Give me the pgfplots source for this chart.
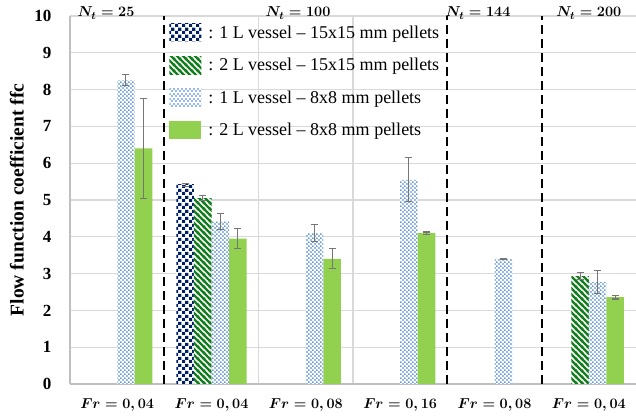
\documentclass[border=0pt]{standalone}
\usepackage{amsmath}
\usepackage{fontspec}
\setmainfont{Liberation Serif}
\usepackage{pgfplots}
\pgfplotsset{compat=1.18}
\usetikzlibrary{patterns}

\definecolor{navy}{RGB}{0,32,96}
\definecolor{hatchgreen}{RGB}{20,125,30}
\definecolor{dotblue}{RGB}{45,117,205}
\definecolor{lightgreen}{RGB}{146,208,80}
\definecolor{gridgray}{RGB}{217,217,217}
\definecolor{axisgray}{RGB}{191,191,191}
\definecolor{errgray}{RGB}{118,118,118}

\pgfdeclarepatternformonly{mychecker}{\pgfqpoint{0pt}{0pt}}{\pgfqpoint{7pt}{7pt}}{\pgfqpoint{7pt}{7pt}}{%
  \pgfpathrectangle{\pgfqpoint{0pt}{0pt}}{\pgfqpoint{3.5pt}{3.5pt}}%
  \pgfpathrectangle{\pgfqpoint{3.5pt}{3.5pt}}{\pgfqpoint{3.5pt}{3.5pt}}%
  \pgfusepath{fill}}
\pgfdeclarepatternformonly{mydots}{\pgfqpoint{0pt}{0pt}}{\pgfqpoint{4.4pt}{4.4pt}}{\pgfqpoint{4.4pt}{4.4pt}}{%
  \pgfpathcircle{\pgfqpoint{1.1pt}{1.1pt}}{1.0pt}%
  \pgfpathcircle{\pgfqpoint{3.3pt}{3.3pt}}{1.0pt}%
  \pgfusepath{fill}}
\pgfdeclarepatternformonly{myhatch}{\pgfqpoint{-1pt}{-1pt}}{\pgfqpoint{7pt}{7pt}}{\pgfqpoint{6pt}{6pt}}{%
  \pgfsetlinewidth{2.2pt}%
  \pgfpathmoveto{\pgfqpoint{-1pt}{7pt}}\pgfpathlineto{\pgfqpoint{7pt}{-1pt}}%
  \pgfpathmoveto{\pgfqpoint{-1pt}{1pt}}\pgfpathlineto{\pgfqpoint{1pt}{-1pt}}%
  \pgfpathmoveto{\pgfqpoint{5pt}{7pt}}\pgfpathlineto{\pgfqpoint{7pt}{5pt}}%
  \pgfusepath{stroke}}

\pgfplotsset{
  swatch/.style={legend image code/.code={\path[##1] (0pt,-9pt) rectangle (32pt,9pt); \path (37pt,0pt);}},
}

\begin{document}
\begin{tikzpicture}
\path[use as bounding box] (-70pt,-35pt) rectangle (566pt,384pt);
\begin{axis}[
  at={(0,0)}, anchor=south west,
  scale only axis, width=566pt, height=368pt,
  ybar=0pt, bar width=0.186,
  xmin=-0.5, xmax=5.5, ymin=0, ymax=10,
  clip=false,
  axis lines*=left,
  axis line style={draw=axisgray, line width=1.2pt, -},
  major tick length=0pt, minor tick length=0pt,
  xtick={0,1,2,3,4,5},
  xticklabels={{$\boldsymbol{Fr = 0,04}$},{$\boldsymbol{Fr = 0,04}$},{$\boldsymbol{Fr = 0,08}$},{$\boldsymbol{Fr = 0,16}$},{$\boldsymbol{Fr = 0,08}$},{$\boldsymbol{Fr = 0,04}$}},
  xticklabel style={font=\fontsize{13.5}{13.5}\selectfont, yshift=-11pt},
  minor xtick={1.5,2.5},
  xminorgrids,
  minor x grid style={draw=gridgray, line width=1.2pt},
  ytick={0,1,...,10},
  ymajorgrids,
  major y grid style={draw=gridgray, line width=1.2pt},
  yticklabel style={font=\fontsize{17}{17}\selectfont\bfseries, xshift=-15pt},
  /pgf/number format/assume math mode=true,
  ylabel={\bfseries Flow function coefficient ffc},
  every axis y label/.style={at={(axis description cs:0,0.5)}, xshift=-53pt, rotate=90, anchor=center, font=\fontsize{19.5}{19.5}\selectfont},
  legend cell align=left,
  legend style={at={(axis description cs:0.175,0.98)}, anchor=north west, draw=none, fill=none,
    font=\fontsize{18}{18}\selectfont, row sep=14.5pt, inner sep=0pt},
  error bars/y dir=both, error bars/y explicit,
  error bars/error bar style={color=errgray, line width=1.1pt},
  error bars/error mark options={rotate=90, mark size=3.5pt, line width=1.1pt, color=errgray},
]
% 1 L vessel - 15x15 mm
\addplot[swatch, draw=none, fill=white, postaction={pattern=mychecker, pattern color=navy}]
  coordinates {(1,5.41) +- (0,0.05)};
% 2 L vessel - 15x15 mm
\addplot[swatch, draw=none, fill=white, postaction={pattern=myhatch, pattern color=hatchgreen}]
  coordinates {(1,5.05) +- (0,0.07) (5,2.93) +- (0,0.10)};
% 1 L vessel - 8x8 mm
\addplot[swatch, draw=none, fill=white, postaction={pattern=mydots, pattern color=dotblue}]
  coordinates {(0,8.25) +- (0,0.15) (1,4.42) +- (0,0.22) (2,4.10) +- (0,0.24) (3,5.55) +- (0,0.60) (4,3.40) +- (0,0.02) (5,2.77) +- (0,0.32)};
% 2 L vessel - 8x8 mm
\addplot[swatch, draw=none, fill=lightgreen]
  coordinates {(0,6.40) +- (0,1.35) (1,3.95) +- (0,0.28) (2,3.40) +- (0,0.27) (3,4.10) +- (0,0.03) (5,2.36) +- (0,0.05)};
\legend{: 1 L vessel -- 15x15 mm pellets, : 2 L vessel -- 15x15 mm pellets, : 1 L vessel -- 8x8 mm pellets, : 2 L vessel -- 8x8 mm pellets}

\draw[black, line width=2.2pt, dash pattern=on 9pt off 5pt] (axis cs:0.5,0) -- (axis cs:0.5,10);
\draw[black, line width=2.2pt, dash pattern=on 9pt off 5pt] (axis cs:3.5,0) -- (axis cs:3.5,10);
\draw[black, line width=2.2pt, dash pattern=on 9pt off 5pt] (axis cs:4.5,0) -- (axis cs:4.5,10);

\node[anchor=base, inner sep=0pt, font=\fontsize{15}{15}\selectfont, yshift=-1pt] at (axis cs:-0.118,10) {$\boldsymbol{N_t = 25}$};
\node[anchor=base, inner sep=0pt, font=\fontsize{15}{15}\selectfont, yshift=-1pt] at (axis cs:1.917,10) {$\boldsymbol{N_t = 100}$};
\node[anchor=base, inner sep=0pt, font=\fontsize{15}{15}\selectfont, yshift=-1pt] at (axis cs:3.825,10) {$\boldsymbol{N_t = 144}$};
\node[anchor=base, inner sep=0pt, font=\fontsize{15}{15}\selectfont, yshift=-1pt] at (axis cs:5.0,10) {$\boldsymbol{N_t = 200}$};
\end{axis}
\end{tikzpicture}
\end{document}
